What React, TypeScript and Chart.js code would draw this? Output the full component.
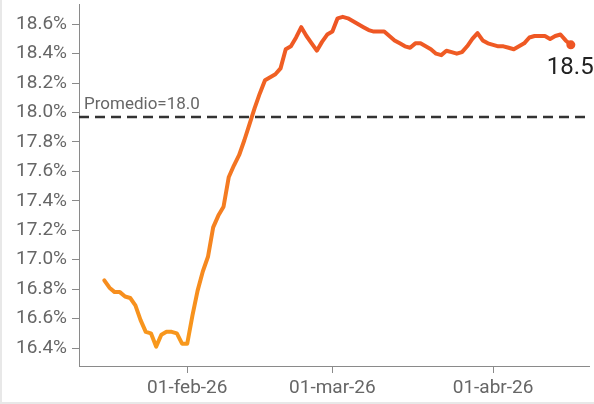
import React, { useEffect, useRef } from 'react';
import { Chart, registerables } from 'chart.js';

Chart.register(...registerables);

// Day-of-year 2026 of the first value (16 = 16-ene-26), one value per day
const START_DAY = 16;
const VALUES = [
  16.86, 16.81, 16.78, 16.78, 16.75, 16.74, 16.69, 16.59, 16.51, 16.50,
  16.41, 16.49, 16.51, 16.51, 16.50, 16.43, 16.43, 16.62, 16.79, 16.92,
  17.02, 17.22, 17.30, 17.36, 17.56, 17.64, 17.71, 17.81, 17.92, 18.03,
  18.13, 18.22, 18.24, 18.26, 18.30, 18.43, 18.45, 18.51, 18.58, 18.52,
  18.47, 18.42, 18.48, 18.53, 18.55, 18.64, 18.65, 18.64, 18.62, 18.60,
  18.58, 18.56, 18.55, 18.55, 18.55, 18.52, 18.49, 18.47, 18.45, 18.44,
  18.47, 18.47, 18.45, 18.43, 18.40, 18.39, 18.42, 18.41, 18.40, 18.41,
  18.45, 18.50, 18.54, 18.49, 18.47, 18.46, 18.45, 18.45, 18.44, 18.43,
  18.45, 18.47, 18.51, 18.52, 18.52, 18.52, 18.50, 18.52, 18.53, 18.49,
  18.46,
];
const AVERAGE = 17.97;
const AVERAGE_LABEL = 'Promedio=18.0';
const X_TICK_DAYS = [32, 60, 91];
const X_TICK_LABELS = ['01-feb-26', '01-mar-26', '01-abr-26'];
const Y_TICKS = [16.4, 16.6, 16.8, 17.0, 17.2, 17.4, 17.6, 17.8, 18.0, 18.2, 18.4, 18.6];

const X_MIN = 11.12;
const X_MAX = 109.6;
const Y_MIN = 16.278;
const Y_MAX = 18.734;

const FONT = 'Roboto';

export default function App() {
  const ref = useRef<HTMLCanvasElement | null>(null);

  useEffect(() => {
    if (!ref.current) return;
    const points = VALUES.map((v, i) => ({ x: START_DAY + i, y: v }));
    const avgPoints = [
      { x: X_MIN, y: AVERAGE },
      { x: X_MAX, y: AVERAGE },
    ];

    const framePlugin = {
      id: 'frame',
      beforeDraw(chart: any) {
        const { ctx, width, height } = chart;
        ctx.save();
        ctx.fillStyle = '#ffffff';
        ctx.fillRect(0, 0, width, height);
        ctx.fillStyle = '#e8e8e8';
        ctx.fillRect(0, 0, 2, height);
        ctx.fillRect(0, height - 2, width, 2);
        ctx.restore();
      },
    };

    const labelPlugin = {
      id: 'customLabels',
      afterDatasetsDraw(chart: any) {
        const { ctx, chartArea, scales } = chart;
        const ay = scales.y.getPixelForValue(AVERAGE);
        ctx.save();
        ctx.font = `17px ${FONT}`;
        ctx.fillStyle = '#666666';
        ctx.textAlign = 'left';
        ctx.textBaseline = 'alphabetic';
        ctx.fillText(AVERAGE_LABEL, chartArea.left + 5, ay - 8);
        const meta = chart.getDatasetMeta(0);
        const last = meta.data[meta.data.length - 1];
        ctx.font = `24px ${FONT}`;
        ctx.fillStyle = '#222222';
        ctx.fillText(VALUES[VALUES.length - 1].toFixed(1), last.x - 24, last.y + 29);
        ctx.restore();
      },
    };

    const noPad = (s: any) => {
      s.paddingTop = 0;
      s.paddingBottom = 0;
      s.paddingLeft = 0;
      s.paddingRight = 0;
    };

    const chart = new Chart(ref.current, {
      type: 'line',
      data: {
        datasets: [
          {
            data: points,
            borderWidth: 4,
            borderColor: (c: any) => {
              const ch = c.chart;
              const area = ch.chartArea;
              if (!area) return '#f47a22';
              const y = ch.scales.y;
              const g = ch.ctx.createLinearGradient(0, y.getPixelForValue(16.4), 0, y.getPixelForValue(18.6));
              g.addColorStop(0, '#f8991c');
              g.addColorStop(0.5, '#f47a22');
              g.addColorStop(1, '#ee5524');
              return g;
            },
            borderJoinStyle: 'round',
            borderCapStyle: 'round',
            tension: 0,
            pointRadius: (c: any) => (c.dataIndex === VALUES.length - 1 ? 4.5 : 0),
            pointBackgroundColor: '#ee5524',
            pointBorderWidth: 0,
            pointHoverRadius: 0,
          },
          {
            data: avgPoints,
            borderColor: '#333333',
            borderWidth: 2.5,
            borderDash: [10, 6],
            pointRadius: 0,
            tension: 0,
          },
        ],
      },
      options: {
        responsive: false,
        animation: false,
        layout: { padding: 0 },
        plugins: {
          legend: { display: false },
          tooltip: { enabled: false },
        },
        scales: {
          x: {
            type: 'linear',
            min: X_MIN,
            max: X_MAX,
            afterFit: (s: any) => {
              s.height = 38;
              noPad(s);
            },
            afterBuildTicks: (s: any) => {
              s.ticks = X_TICK_DAYS.map((v) => ({ value: v }));
            },
            grid: {
              drawOnChartArea: false,
              drawTicks: true,
              tickLength: 7,
              color: '#8a8a8a',
            },
            border: { display: true, color: '#8a8a8a', width: 1 },
            ticks: {
              autoSkip: false,
              maxRotation: 0,
              padding: 4,
              color: '#666666',
              font: { family: FONT, size: 19 },
              callback: (v: any) => {
                const i = X_TICK_DAYS.indexOf(Number(v));
                return i >= 0 ? X_TICK_LABELS[i] : '';
              },
            },
          },
          y: {
            type: 'linear',
            min: Y_MIN,
            max: Y_MAX,
            afterFit: (s: any) => {
              s.width = 79;
              noPad(s);
            },
            afterBuildTicks: (s: any) => {
              s.ticks = Y_TICKS.map((v) => ({ value: v }));
            },
            grid: {
              drawOnChartArea: false,
              drawTicks: true,
              tickLength: 7,
              color: '#8a8a8a',
            },
            border: { display: true, color: '#8a8a8a', width: 1 },
            ticks: {
              padding: 5,
              color: '#666666',
              font: { family: FONT, size: 19 },
              callback: (v: any) => Number(v).toFixed(1) + '%',
            },
          },
        },
      },
      plugins: [framePlugin, labelPlugin],
    });
    return () => chart.destroy();
  }, []);

  return (
    <div
      style={{
        position: 'absolute',
        left: 0,
        top: 0,
        width: 594,
        height: 404,
        overflow: 'hidden',
      }}
    >
      <canvas ref={ref} width={594} height={404} style={{ display: 'block', width: 594, height: 404 }} />
    </div>
  );
}
